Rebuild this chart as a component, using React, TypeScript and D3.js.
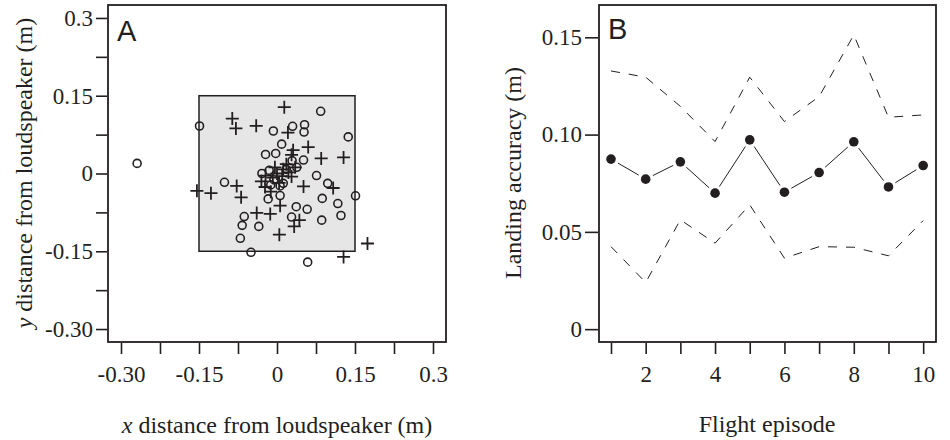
import React, { useEffect, useRef } from "react";
import * as d3 from "d3";

// Panel A: landing positions (m)
const circleX = [-0.149, 0.084, -0.007, 0.03, 0.053, 0.052, 0.137, 0.009, -0.022, -0.0025, 0.029, 0.051, 0.038, -0.029, 0.076, -0.101, 0.0975, 0.006, 0.151, 0.006, -0.017, 0.087, 0.117, 0.037, 0.058, 0.123, -0.063, 0.028, 0.086, -0.067, -0.035, -0.0705, -0.05, 0.059, -0.269, -0.015, 0.012, -0.012, 0.018, -0.006];
const circleY = [0.0916, 0.12, 0.082, 0.091, 0.094, 0.08, 0.0706, 0.0566, 0.0367, 0.0387, 0.0246, 0.026, 0.012, 0.0, -0.004, -0.017, -0.019, -0.024, -0.043, -0.0425, -0.049, -0.048, -0.058, -0.064, -0.069, -0.081, -0.083, -0.084, -0.09, -0.1, -0.102, -0.125, -0.152, -0.171, 0.0195, 0.006, -0.019, -0.022, 0.008, -0.012];
const crossX = [0.014, -0.086, -0.079, -0.04, 0.021, 0.06, 0.031, 0.085, 0.128, -0.154, -0.127, -0.0775, -0.069, -0.023, 0.051, 0.108, 0.006, -0.039, -0.013, 0.043, 0.033, 0.0045, 0.174, 0.128, 0.0, 0.012, 0.022, -0.008, 0.018, -0.022, 0.028, 0.004, -0.004, 0.035, -0.012, 0.01, -0.03, 0.028];
const crossY = [0.128, 0.106, 0.087, 0.092, 0.079, 0.051, 0.045, 0.029, 0.031, -0.0335, -0.038, -0.024, -0.046, -0.026, -0.025, -0.028, -0.062, -0.076, -0.078, -0.09, -0.102, -0.118, -0.135, -0.161, 0.0, 0.008, 0.002, -0.008, 0.018, -0.004, -0.006, -0.018, 0.012, 0.012, -0.035, -0.005, -0.015, 0.036];
const ticksA = [-0.3, -0.225, -0.15, -0.075, 0, 0.075, 0.15, 0.225, 0.3];
const labelsAX = ["-0.30", "", "-0.15", "", "0", "", "0.15", "", "0.3"];
const labelsAY = ["-0.30", "", "-0.15", "", "0", "", "0.15", "", "0.3"];

// Panel B: landing accuracy by flight episode
const episodes = [1, 2, 3, 4, 5, 6, 7, 8, 9, 10];
const meanAcc = [0.0874, 0.0771, 0.086, 0.0699, 0.0973, 0.0704, 0.0805, 0.0963, 0.0731, 0.0841];
const upperAcc = [0.1327, 0.1295, 0.1145, 0.0964, 0.1295, 0.1067, 0.1195, 0.1512, 0.1089, 0.1101];
const lowerAcc = [0.0424, 0.024, 0.0562, 0.0442, 0.0639, 0.0365, 0.0424, 0.0421, 0.0377, 0.0558];
const ticksBX = [1, 2, 3, 4, 5, 6, 7, 8, 9, 10];
const labelsBX = ["", "2", "", "4", "", "6", "", "8", "", "10"];
const ticksBY = [0, 0.05, 0.1, 0.15];
const labelsBY = ["0", "0.05", "0.10", "0.15"];

const INK = "#231f20";
const SERIF = "'Liberation Serif', 'Times New Roman', serif";
const SANS = "'Liberation Sans', Arial, sans-serif";
const FS = 23;
const FT = 24;

export default function App() {
  const ref = useRef<SVGSVGElement>(null);

  useEffect(() => {
    const svg = d3.select(ref.current);
    svg.selectAll("*").remove();

    const styleAxis = (g: any) => {
      g.select(".domain").remove();
      g.selectAll(".tick line").attr("stroke", INK).attr("stroke-width", 1.6);
      g.selectAll(".tick text").attr("fill", INK).attr("font-family", SERIF).attr("font-size", FS);
    };

    // ---------- Panel A ----------
    const xA = d3.scaleLinear().domain([-0.325, 0.325]).range([108, 446]);
    const yA = d3.scaleLinear().domain([-0.325, 0.325]).range([342, 5]);
    const gA = svg.append("g");

    gA.append("rect")
      .attr("x", xA(-0.15)).attr("y", yA(0.15))
      .attr("width", xA(0.15) - xA(-0.15)).attr("height", yA(-0.15) - yA(0.15))
      .attr("fill", "#e6e6e7").attr("stroke", INK).attr("stroke-width", 1.5);

    gA.append("g").attr("transform", "translate(0,343)")
      .call(d3.axisBottom(xA).tickValues(ticksA).tickSize(11).tickPadding(12)
        .tickFormat((d, i) => labelsAX[i]))
      .call(styleAxis);
    gA.append("g").attr("transform", "translate(107,0)")
      .call(d3.axisLeft(yA).tickValues(ticksA).tickSize(11).tickPadding(3)
        .tickFormat((d, i) => labelsAY[i]))
      .call(styleAxis);

    const ptsC = circleX.map((x, i) => [x, circleY[i]]);
    gA.append("g").selectAll("circle").data(ptsC).join("circle")
      .attr("cx", d => xA(d[0])).attr("cy", d => yA(d[1])).attr("r", 4)
      .attr("fill", "none").attr("stroke", INK).attr("stroke-width", 1.6);

    const ptsX = crossX.map((x, i) => [x, crossY[i]]);
    const h = 6.5;
    gA.append("g").selectAll("path").data(ptsX).join("path")
      .attr("d", d => {
        const cx = xA(d[0]), cy = yA(d[1]);
        return `M${cx - h},${cy}H${cx + h}M${cx},${cy - h}V${cy + h}`;
      })
      .attr("stroke", INK).attr("stroke-width", 1.8).attr("fill", "none");

    gA.append("rect").attr("x", 108).attr("y", 5).attr("width", 338).attr("height", 337)
      .attr("fill", "none").attr("stroke", INK).attr("stroke-width", 1.8);

    gA.append("text").attr("x", 117).attr("y", 41).text("A")
      .attr("font-family", SANS).attr("font-size", 29).attr("fill", INK);

    const tA = gA.append("text").attr("x", 277).attr("y", 433).attr("text-anchor", "middle")
      .attr("font-family", SERIF).attr("font-size", FT).attr("fill", INK);
    tA.append("tspan").attr("font-style", "italic").text("x");
    tA.append("tspan").text(" distance from loudspeaker (m)");

    const tAy = gA.append("text").attr("transform", "translate(32,173) rotate(-90)")
      .attr("text-anchor", "middle")
      .attr("font-family", SERIF).attr("font-size", FT).attr("fill", INK);
    tAy.append("tspan").attr("font-style", "italic").text("y");
    tAy.append("tspan").text(" distance from loudspeaker (m)");

    // ---------- Panel B ----------
    const xB = d3.scaleLinear().domain([0.654, 10.37]).range([599, 936]);
    const yB = d3.scaleLinear().domain([-0.0066, 0.1666]).range([342, 5]);
    const gB = svg.append("g");

    gB.append("g").attr("transform", "translate(0,343)")
      .call(d3.axisBottom(xB).tickValues(ticksBX).tickSize(11).tickPadding(12)
        .tickFormat((d, i) => labelsBX[i]))
      .call(styleAxis);
    gB.append("g").attr("transform", "translate(598,0)")
      .call(d3.axisLeft(yB).tickValues(ticksBY).tickSize(13).tickPadding(3)
        .tickFormat((d, i) => labelsBY[i]))
      .call(styleAxis);

    const line = d3.line<number>().x((d, i) => xB(episodes[i])).y(d => yB(d));
    [upperAcc, lowerAcc].forEach(arr => {
      gB.append("path").attr("d", line(arr)).attr("fill", "none")
        .attr("stroke", INK).attr("stroke-width", 1).attr("stroke-dasharray", "9,9");
    });

    // mean line with gaps at points
    const gap = 8;
    const segs = meanAcc.slice(1).map((v, i) => {
      const x0 = xB(episodes[i]), y0 = yB(meanAcc[i]);
      const x1 = xB(episodes[i + 1]), y1 = yB(v);
      const len = Math.hypot(x1 - x0, y1 - y0);
      const ux = (x1 - x0) / len, uy = (y1 - y0) / len;
      return [x0 + ux * gap, y0 + uy * gap, x1 - ux * gap, y1 - uy * gap];
    });
    gB.append("g").selectAll("line").data(segs).join("line")
      .attr("x1", d => d[0]).attr("y1", d => d[1]).attr("x2", d => d[2]).attr("y2", d => d[3])
      .attr("stroke", INK).attr("stroke-width", 1);

    gB.append("g").selectAll("circle").data(meanAcc).join("circle")
      .attr("cx", (d, i) => xB(episodes[i])).attr("cy", d => yB(d)).attr("r", 4.8)
      .attr("fill", INK);

    gB.append("rect").attr("x", 599).attr("y", 5).attr("width", 337).attr("height", 337)
      .attr("fill", "none").attr("stroke", INK).attr("stroke-width", 1.8);

    gB.append("text").attr("x", 608).attr("y", 39).text("B")
      .attr("font-family", SANS).attr("font-size", 29).attr("fill", INK);

    gB.append("text").attr("x", 767).attr("y", 432).attr("text-anchor", "middle")
      .attr("font-family", SERIF).attr("font-size", FT).attr("fill", INK).text("Flight episode");
    gB.append("text").attr("transform", "translate(521,173) rotate(-90)")
      .attr("text-anchor", "middle")
      .attr("font-family", SERIF).attr("font-size", FT).attr("fill", INK).text("Landing accuracy (m)");
  }, []);

  return (
    <svg ref={ref} width={950} height={440}
      style={{ position: "absolute", left: 0, top: 0, background: "#fff" }} />
  );
}
